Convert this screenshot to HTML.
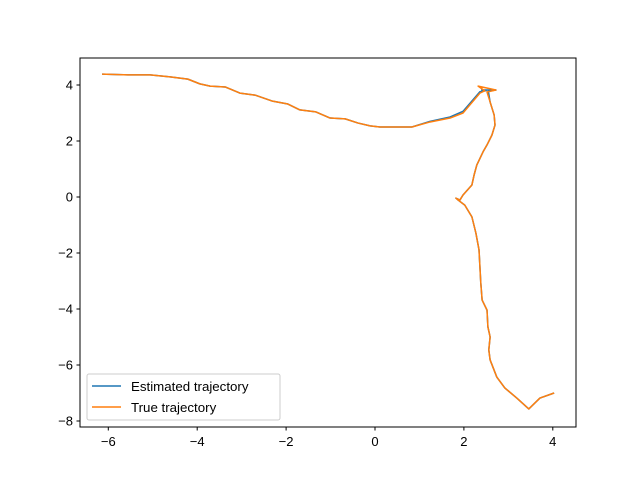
<!DOCTYPE html>
<html><head><meta charset="utf-8"><style>
body{margin:0;background:#fff}
svg{display:block;font-family:"Liberation Sans","DejaVu Sans",sans-serif}
</style></head><body>
<svg id="chart" width="640" height="480" viewBox="0 0 640 480">
<rect width="640" height="480" fill="#fff"/>
<g id="axes"></g>
<g id="series"></g>
<rect x="80" y="58" width="496" height="369" fill="none" stroke="#000" stroke-width="1"/>
<g>
<rect x="87" y="374" width="193" height="46" rx="2" fill="#fff" fill-opacity="0.8" stroke="#ccc"/>
<line x1="92" y1="386" x2="121" y2="386" stroke="#1f77b4" stroke-width="1.5"/>
<text x="131" y="391" font-size="13.3">Estimated trajectory</text>
<line x1="92" y1="407" x2="121" y2="407" stroke="#ff7f0e" stroke-width="1.5"/>
<text x="131" y="412" font-size="13.3">True trajectory</text>
</g>
</svg>
<script>
const xTicks=[-6,-4,-2,0,2,4];
const yTicks=[4,2,0,-2,-4,-6,-8];
const trueX=[4.03,3.71,3.46,3.19,2.92,2.74,2.59,2.56,2.59,2.54,2.52,2.41,2.38,2.34,2.27,2.18,2.02,1.87,1.82,1.91,1.98,2.18,2.23,2.29,2.43,2.52,2.63,2.70,2.68,2.59,2.52,2.72,2.32,2.47,2.36,1.98,1.69,1.24,0.83,0.56,0.11,-0.11,-0.38,-0.67,-1.01,-1.33,-1.69,-1.96,-2.32,-2.70,-3.04,-3.37,-3.71,-3.94,-4.21,-4.61,-5.06,-5.51,-6.14];
const trueY=[-7.0,-7.18,-7.57,-7.18,-6.82,-6.43,-5.82,-5.46,-5.0,-4.64,-4.04,-3.68,-3.07,-1.89,-1.29,-0.71,-0.29,-0.11,-0.04,-0.11,0.07,0.43,0.79,1.14,1.61,1.86,2.21,2.57,2.93,3.39,3.75,3.82,3.96,3.79,3.71,3.0,2.82,2.68,2.5,2.5,2.5,2.54,2.64,2.79,2.82,3.04,3.11,3.32,3.43,3.64,3.71,3.93,3.96,4.04,4.21,4.29,4.36,4.36,4.39];
const estX=[4.03,3.71,3.46,3.19,2.92,2.74,2.59,2.56,2.59,2.54,2.52,2.41,2.38,2.34,2.27,2.18,2.02,1.87,1.82,1.91,1.98,2.18,2.23,2.29,2.43,2.52,2.63,2.70,2.68,2.59,2.55,2.72,2.40,2.50,2.36,1.98,1.69,1.24,0.83,0.56,0.11,-0.11,-0.38,-0.67,-1.01,-1.33,-1.69,-1.96,-2.32,-2.70,-3.04,-3.37,-3.71,-3.94,-4.21,-4.61,-5.06,-5.51,-6.14];
const estY=[-7.0,-7.18,-7.57,-7.18,-6.82,-6.43,-5.82,-5.46,-5.0,-4.64,-4.04,-3.68,-3.07,-1.89,-1.29,-0.71,-0.29,-0.11,-0.04,-0.11,0.07,0.43,0.79,1.14,1.61,1.86,2.21,2.57,2.93,3.39,3.78,3.82,3.82,3.80,3.76,3.06,2.86,2.70,2.5,2.5,2.5,2.54,2.64,2.79,2.82,3.04,3.11,3.32,3.43,3.64,3.71,3.93,3.96,4.04,4.21,4.29,4.36,4.36,4.39];
const sx=v=>375+v*44.45;
const sy=v=>197-v*28;
const NS="http://www.w3.org/2000/svg";
const axes=document.getElementById('axes');
xTicks.forEach(t=>{
  const l=document.createElementNS(NS,'line');
  l.setAttribute('x1',sx(t));l.setAttribute('x2',sx(t));l.setAttribute('y1',427);l.setAttribute('y2',430.5);l.setAttribute('stroke','#000');
  
  
  axes.appendChild(l);
  const tx=document.createElementNS(NS,'text');
  tx.setAttribute('x',sx(t));tx.setAttribute('y',446);tx.setAttribute('font-size','13');tx.setAttribute('text-anchor','middle');
  tx.textContent=t<0?'\u2212'+(-t):String(t);
  
  
  axes.appendChild(tx);
});
yTicks.forEach(t=>{
  const l=document.createElementNS(NS,'line');
  l.setAttribute('x1',76.5);l.setAttribute('x2',80);l.setAttribute('y1',sy(t));l.setAttribute('y2',sy(t));l.setAttribute('stroke','#000');
  
  
  axes.appendChild(l);
  const tx=document.createElementNS(NS,'text');
  tx.setAttribute('x',73);tx.setAttribute('y',sy(t)+4.5);tx.setAttribute('font-size','13');tx.setAttribute('text-anchor','end');
  tx.textContent=t<0?'\u2212'+(-t):String(t);
  
  
  axes.appendChild(tx);
});
const series=document.getElementById('series');
function draw(xs,ys,color,name){
  const p=document.createElementNS(NS,'polyline');
  p.setAttribute('points',xs.map((x,i)=>sx(x)+','+sy(ys[i])).join(' '));
  p.setAttribute('fill','none');p.setAttribute('stroke',color);p.setAttribute('stroke-width','1.5');p.setAttribute('stroke-linejoin','round');
  
  
  series.appendChild(p);
}
draw(estX,estY,'#1f77b4','estimated-trajectory-line');
draw(trueX,trueY,'#ff7f0e','true-trajectory-line');
</script>
</body></html>
